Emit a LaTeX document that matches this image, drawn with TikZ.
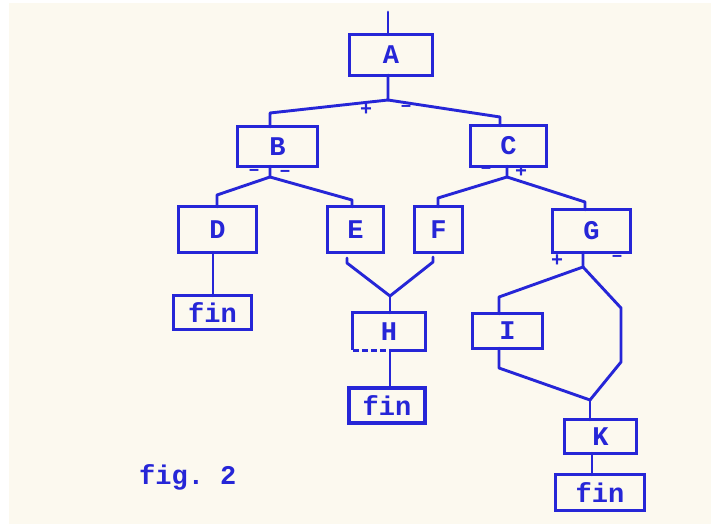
\documentclass[tikz,border=0pt]{standalone}
\usepackage{fontspec}
\setmonofont{Liberation Mono}
\definecolor{ink}{RGB}{38,38,215}
\definecolor{paper}{RGB}{252,249,239}
\begin{document}
\begin{tikzpicture}[x=1pt,y=-1pt,
  every node/.style={text=ink, font=\ttfamily\bfseries\fontsize{27}{27}\selectfont},
  boxnode/.style={inner sep=0pt},
  wire/.style={draw=ink, line width=2.9pt, line join=round, line cap=round},
  frame/.style={draw=ink, line width=3pt, line join=miter, line cap=butt},
  sign/.style={font=\ttfamily\bfseries\fontsize{20}{20}\selectfont, inner sep=0pt}]
\useasboundingbox (0,0) rectangle (711,524);
\fill[white] (0,0) rectangle (711,524);
\fill[paper] (9,3) rectangle (711,524);
% boxes
\node[boxnode, minimum width=82, minimum height=40] (A) at (391,55) {A};
\node[boxnode, minimum width=79, minimum height=39] (B) at (277.5,146.5) {B};
\node[boxnode, minimum width=75, minimum height=40] (C) at (508.5,146) {C};
\node[boxnode, minimum width=77, minimum height=45] (D) at (217.5,229.5) {D};
\node[boxnode, minimum width=55, minimum height=45] (E) at (355.5,229.5) {E};
\node[boxnode, minimum width=47, minimum height=45] (F) at (438.5,229.5) {F};
\node[boxnode, minimum width=77, minimum height=42] (G) at (591.5,231) {G};
\node[boxnode, minimum width=77, minimum height=33] (fin1) at (212.5,312.5) {fin};
\node[boxnode, minimum width=72, minimum height=37] (H) at (389,331.5) {H};
\node[boxnode, minimum width=76, minimum height=35] (fin2) at (387,405.5) {fin};
\node[boxnode, minimum width=69, minimum height=34] (I) at (507.5,331) {I};
\node[boxnode, minimum width=71, minimum height=33] (K) at (600.5,436.5) {K};
\node[boxnode, minimum width=88, minimum height=35] (fin3) at (600,492.5) {fin};
% frames
\foreach \n in {A,B,C,D,E,F,G,fin1,I,K,fin3}
  \draw[frame] (\n.south west) rectangle (\n.north east);
\draw[frame, line width=4.4pt] (fin2.south west) rectangle (fin2.north east);
% H box with dashed left bottom
\draw[frame] (H.south) -- (H.south east) -- (H.north east) -- (H.north west) -- (H.south west);
\draw[frame, dash pattern=on 6pt off 3pt] (H.south west) -- (H.south);
% junction coordinates
\coordinate (top) at (388,12);
\coordinate (jA) at (388,100);
\coordinate (jB) at (270,177);
\coordinate (jC) at (507,177);
\coordinate (jH) at (390,296);
\coordinate (jG) at (583,267);
\coordinate (jK) at (590,400);
\coordinate (eS) at (347,258);
\coordinate (fS) at (433,257);
% connectors
\draw[wire] (top) -- (A.north -| top);
\draw[wire] (A.south -| jA) -- (jA) -- (270,113) -- (B.north -| 270,113);
\draw[wire] (jA) -- (500,117) -- (C.north -| 500,117);
\draw[wire] (B.south -| jB) -- (jB) -- (217,195) -- (D.north -| 217,195);
\draw[wire] (jB) -- (352,200) -- (E.north -| 352,200);
\draw[wire] (C.south -| jC) -- (jC) -- (438,198) -- (F.north -| 438,198);
\draw[wire] (jC) -- (585,202) -- (G.north -| 585,202);
\draw[wire] (D.south -| 213,0) -- (fin1.north -| 213,0);
\draw[wire] (eS) -- (347,263) -- (jH);
\draw[wire] (fS) -- (433,262) -- (jH);
\draw[wire] (jH) -- (H.north -| jH);
\draw[wire] (H.south -| jH) -- (fin2.north -| jH);
\draw[wire] (G.south -| jG) -- (jG) -- (499,297) -- (I.north -| 499,297);
\draw[wire] (jG) -- (621,308) -- (621,362) -- (jK);
\draw[wire] (I.south -| 499,0) -- (499,368) -- (jK);
\draw[wire] (jK) -- (K.north -| jK);
\draw[wire] (K.south -| 592,0) -- (fin3.north -| 592,0);
% signs
\node[sign] (sA1) at (366,110) {+};
\node[sign] (sA2) at (406,108) {–};
\node[sign] (sB1) at (254,172) {–};
\node[sign] (sB2) at (285,173) {–};
\node[sign] (sC1) at (486,170) {–};
\node[sign] (sC2) at (521,172) {+};
\node[sign] (sG1) at (557,261) {+};
\node[sign] (sG2) at (617,258) {–};
% caption
\node[anchor=west, inner sep=0pt] (cap) at (139,477) {fig. 2};
\end{tikzpicture}
\end{document}
